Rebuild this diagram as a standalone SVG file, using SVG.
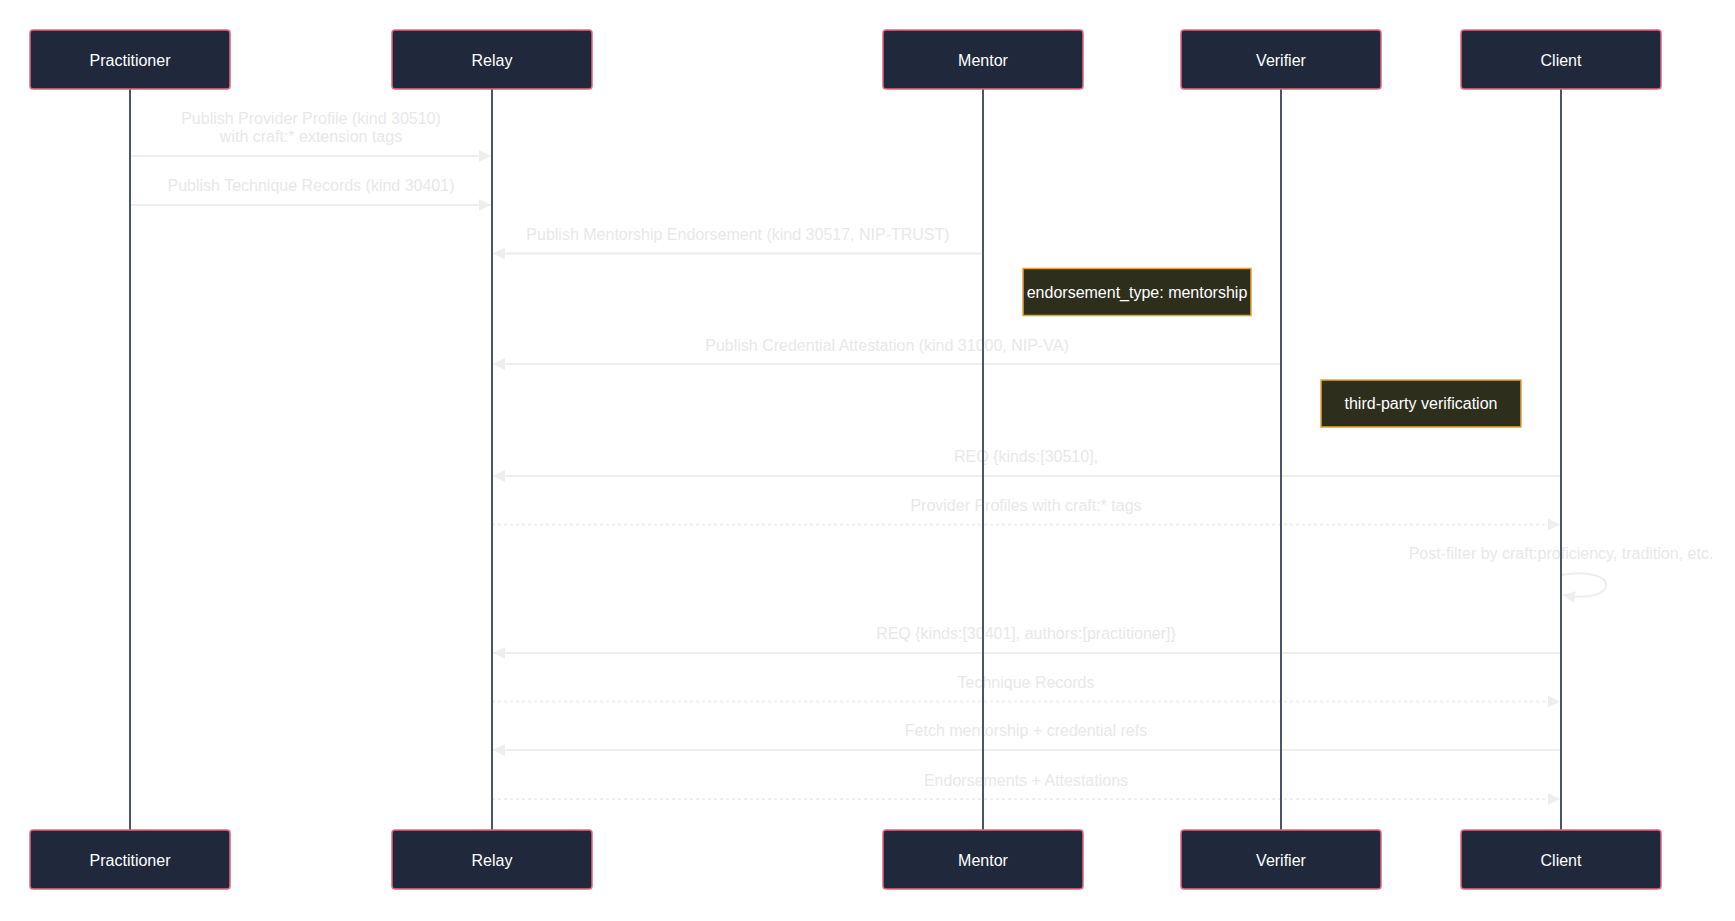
<svg xmlns="http://www.w3.org/2000/svg" width="1735" height="921" viewBox="0 0 1735 921">
<style>
.actor rect{fill:#1f293b;stroke:#e8657f;stroke-width:1.5}
.actor text,.note text{font-family:"Liberation Sans",Arial,sans-serif;font-size:16px;fill:#ffffff;text-anchor:middle}
.note rect{fill:#2e2e1d;stroke:#e5a43a;stroke-width:1.5}
.life{stroke:#4a5568;stroke-width:2}
.msg{stroke:#eeeeee;stroke-width:2;fill:none}
.dash{stroke-dasharray:3,3}
.mt{font-family:"Liberation Sans",Arial,sans-serif;font-size:16px;fill:#e8e8e8;text-anchor:middle}
</style>
<defs>
<marker id="ah" markerWidth="12" markerHeight="12" refX="10" refY="5" orient="auto" markerUnits="userSpaceOnUse" viewBox="0 0 10 10">
<path d="M0,0 L10,5 L0,10 z" fill="#eeeeee"/>
</marker>
</defs>
<rect width="1735" height="921" fill="#ffffff"/>
<g id="connectors">
<line class="msg" x1="130" y1="156" x2="491" y2="156" marker-end="url(#ah)"/>
<text class="mt" x="311" y="124">Publish Provider Profile (kind 30510)</text>
<text class="mt" x="311" y="141.5">with craft:* extension tags</text>
<line class="msg" x1="130" y1="205" x2="491" y2="205" marker-end="url(#ah)"/>
<text class="mt" x="311" y="190.5">Publish Technique Records (kind 30401)</text>
<line class="msg" x1="983" y1="253.5" x2="493" y2="253.5" marker-end="url(#ah)"/>
<text class="mt" x="738" y="239.5">Publish Mentorship Endorsement (kind 30517, NIP-TRUST)</text>
<line class="msg" x1="1281" y1="364" x2="493" y2="364" marker-end="url(#ah)"/>
<text class="mt" x="887" y="350.5">Publish Credential Attestation (kind 31000, NIP-VA)</text>
<line class="msg" x1="1561" y1="476" x2="493" y2="476" marker-end="url(#ah)"/>
<text class="mt" x="1026" y="462">REQ {kinds:[30510],</text>
<line class="msg dash" x1="492" y1="524.5" x2="1560" y2="524.5" marker-end="url(#ah)"/>
<text class="mt" x="1026" y="510.5">Provider Profiles with craft:* tags</text>
<text class="mt" x="1561" y="559">Post-filter by craft:proficiency, tradition, etc.</text>
<path class="msg" d="M1561,575 C1621,565 1621,605 1563,595" marker-end="url(#ah)"/>
<line class="msg" x1="1561" y1="653" x2="493" y2="653" marker-end="url(#ah)"/>
<text class="mt" x="1026" y="639">REQ {kinds:[30401], authors:[practitioner]}</text>
<line class="msg dash" x1="492" y1="701.5" x2="1560" y2="701.5" marker-end="url(#ah)"/>
<text class="mt" x="1026" y="687.5">Technique Records</text>
<line class="msg" x1="1561" y1="750" x2="493" y2="750" marker-end="url(#ah)"/>
<text class="mt" x="1026" y="736">Fetch mentorship + credential refs</text>
<line class="msg dash" x1="492" y1="799" x2="1560" y2="799" marker-end="url(#ah)"/>
<text class="mt" x="1026" y="785.5">Endorsements + Attestations</text>
</g>
<g id="lifelines">
<line class="life" x1="130" y1="89" x2="130" y2="830"/>
<line class="life" x1="492" y1="89" x2="492" y2="830"/>
<line class="life" x1="983" y1="89" x2="983" y2="830"/>
<line class="life" x1="1281" y1="89" x2="1281" y2="830"/>
<line class="life" x1="1561" y1="89" x2="1561" y2="830"/>
</g>
<g id="note-mentorship" class="note">
<rect x="1023" y="268.5" width="228" height="47"/>
<text x="1137" y="298">endorsement_type: mentorship</text>
</g>
<g id="note-verification" class="note">
<rect x="1321" y="380" width="200" height="47"/>
<text x="1421" y="408.5">third-party verification</text>
</g>
<g id="practitioner" class="actor">
<rect x="30" y="30" width="200" height="59" rx="3"/>
<text x="130" y="66">Practitioner</text>
<rect x="30" y="830" width="200" height="59" rx="3"/>
<text x="130" y="866">Practitioner</text>
</g>
<g id="relay" class="actor">
<rect x="392" y="30" width="200" height="59" rx="3"/>
<text x="492" y="66">Relay</text>
<rect x="392" y="830" width="200" height="59" rx="3"/>
<text x="492" y="866">Relay</text>
</g>
<g id="mentor" class="actor">
<rect x="883" y="30" width="200" height="59" rx="3"/>
<text x="983" y="66">Mentor</text>
<rect x="883" y="830" width="200" height="59" rx="3"/>
<text x="983" y="866">Mentor</text>
</g>
<g id="verifier" class="actor">
<rect x="1181" y="30" width="200" height="59" rx="3"/>
<text x="1281" y="66">Verifier</text>
<rect x="1181" y="830" width="200" height="59" rx="3"/>
<text x="1281" y="866">Verifier</text>
</g>
<g id="client" class="actor">
<rect x="1461" y="30" width="200" height="59" rx="3"/>
<text x="1561" y="66">Client</text>
<rect x="1461" y="830" width="200" height="59" rx="3"/>
<text x="1561" y="866">Client</text>
</g>
</svg>
